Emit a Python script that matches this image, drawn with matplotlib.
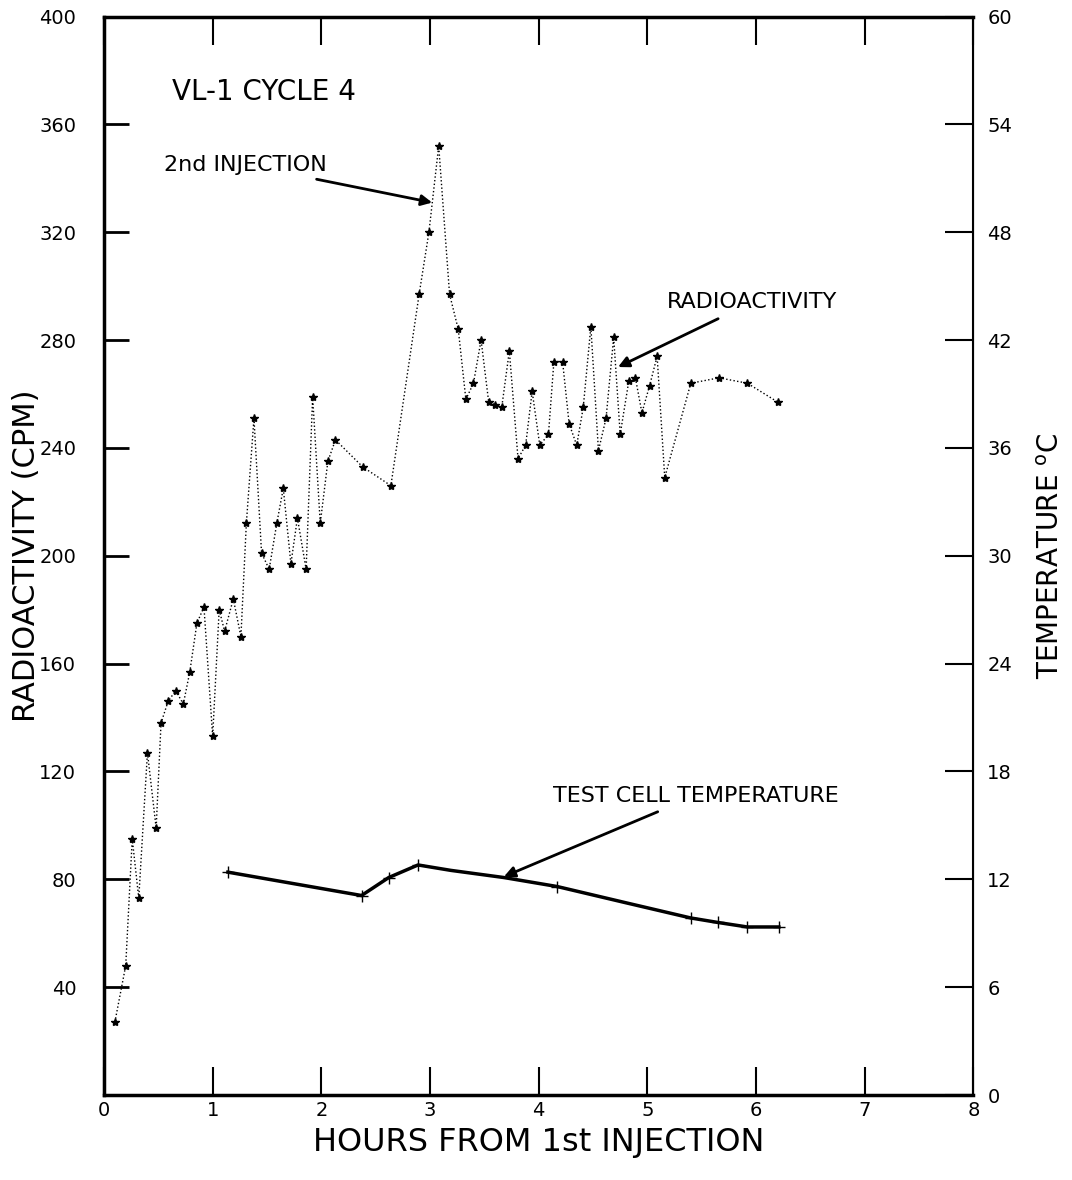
# VL-1 cycle 4: radioactivity and test cell temperature vs hours from 1st injection

import numpy as np
import matplotlib.pyplot as plt

# radioactivity readings (CPM)
rad_hours = [0.10, 0.20, 0.26, 0.32, 0.40, 0.48, 0.525, 0.59, 0.66, 0.73,
             0.79, 0.855, 0.92, 1.00, 1.06, 1.11, 1.19, 1.26, 1.31, 1.38,
             1.45, 1.52, 1.59, 1.65, 1.72, 1.78, 1.86, 1.92, 1.99, 2.06,
             2.13, 2.38, 2.64, 2.90, 2.99, 3.08, 3.18, 3.26, 3.33, 3.40,
             3.47, 3.54, 3.60, 3.66, 3.73, 3.81, 3.88, 3.94, 4.01, 4.09,
             4.14, 4.22, 4.28, 4.35, 4.41, 4.48, 4.55, 4.62, 4.69, 4.75,
             4.83, 4.89, 4.95, 5.02, 5.09, 5.16, 5.40, 5.66, 5.92, 6.20]
rad_cpm = [27, 48, 95, 73, 127, 99, 138, 146, 150, 145,
           157, 175, 181, 133, 180, 172, 184, 170, 212, 251,
           201, 195, 212, 225, 197, 214, 195, 259, 212, 235,
           243, 233, 226, 297, 320, 352, 297, 284, 258, 264,
           280, 257, 256, 255, 276, 236, 241, 261, 241, 245,
           272, 272, 249, 241, 255, 285, 239, 251, 281, 245,
           265, 266, 253, 263, 274, 229, 264, 266, 264, 257]

# test cell temperature (deg C)
temp_hours = [1.14, 2.37, 2.62, 2.89, 3.19, 3.68, 4.17, 4.80, 5.40, 5.65, 5.92, 6.21]
temp_c = [12.4, 11.1, 12.1, 12.8, 12.5, 12.1, 11.6, 10.7, 9.85, 9.6, 9.35, 9.35]
temp_marked = [0, 1, 2, 3, 6, 8, 9, 10, 11]

x_ticks = list(range(0, 9))
rad_ticks = list(range(40, 401, 40))
temp_ticks = list(range(0, 61, 6))

plt.rcParams['font.family'] = ['DejaVu Sans']

fig = plt.figure(figsize=(10.72, 11.8), dpi=100)
ax = fig.add_axes([0.097, 0.072, 0.811, 0.914])

ax.plot(rad_hours, rad_cpm, color='black', linestyle=':', linewidth=1.0,
        marker='*', markersize=6)

ax.set_xlim(0, 8)
ax.set_ylim(0, 400)
ax.set_xticks(x_ticks)
ax.set_yticks(rad_ticks)
ax.tick_params(axis='y', direction='in', length=18, width=2, labelsize=14, pad=20)
ax.tick_params(axis='x', direction='in', top=True, length=20, width=1.5,
               labelsize=14, pad=4)
for side in ['left', 'bottom', 'top']:
    ax.spines[side].set_linewidth(2.5)
ax.spines['right'].set_linewidth(1.5)

ax.set_xlabel('HOURS FROM 1st INJECTION', fontsize=23, labelpad=5)
ax.set_ylabel('RADIOACTIVITY (CPM)', fontsize=22)
ax.yaxis.set_label_coords(-0.072, 0.5)

ax2 = ax.twinx()
ax2.plot(temp_hours, temp_c, color='black', linewidth=2.5,
         marker='+', markersize=9, markeredgewidth=1, markevery=temp_marked)
ax2.set_ylim(0, 60)
ax2.set_yticks(temp_ticks)
ax2.tick_params(direction='in', length=20, width=1.5, labelsize=14, pad=10)
ax2.set_ylabel('TEMPERATURE $^{\\mathrm{o}}$C', fontsize=20, labelpad=18)

ax.text(0.63, 372, 'VL-1 CYCLE 4', fontsize=20, va='center')
ax.annotate('2nd INJECTION', xy=(3.02, 331), xytext=(0.55, 345),
            fontsize=16, va='center',
            arrowprops=dict(arrowstyle='-|>', color='black', lw=2, shrinkA=6, shrinkB=0))
ax.annotate('RADIOACTIVITY', xy=(4.73, 270), xytext=(5.18, 294),
            fontsize=16, va='center',
            arrowprops=dict(arrowstyle='-|>', color='black', lw=2, shrinkA=6, shrinkB=0))
ax.annotate('TEST CELL TEMPERATURE', xy=(3.68, 81), xytext=(4.13, 111),
            fontsize=16, va='center',
            arrowprops=dict(arrowstyle='-|>', color='black', lw=2, shrinkA=6, shrinkB=0))

plt.savefig('out.png', dpi=100)
